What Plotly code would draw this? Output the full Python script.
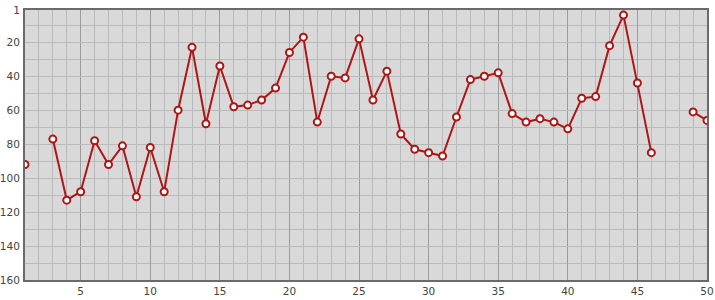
import plotly.graph_objects as go

x_vals = list(range(1, 51))
y_vals = [92, None, 77, 113, 108, 78, 92, 81, 111, 82,
          108, 60, 23, 68, 34, 58, 57, 54, 47, 26,
          17, 67, 40, 41, 18, 54, 37, 74, 83, 85,
          87, 64, 42, 40, 38, 62, 67, 65, 67, 71,
          53, 52, 22, 4, 44, 85, None, None, 61, 66]

y_ticks = [1, 20, 40, 60, 80, 100, 120, 140, 160]
x_ticks = [5, 10, 15, 20, 25, 30, 35, 40, 45, 50]

fig = go.Figure(go.Scatter(
    x=x_vals, y=y_vals, mode="lines+markers", connectgaps=False,
    line=dict(color="#b01515", width=2),
    marker=dict(size=7, color="white", line=dict(color="#b01515", width=2)),
    hoverinfo="x+y",
))

fig.update_layout(
    width=715, height=300,
    margin=dict(l=25, r=8, t=10, b=20),
    paper_bgcolor="white", plot_bgcolor="#d9d9d9",
    showlegend=False,
    font=dict(family="DejaVu Sans", size=10.5, color="#444444"),
)
fig.update_xaxes(
    range=[1, 50], tickmode="array", tickvals=x_ticks,
    showgrid=True, gridcolor="#9c9c9c", gridwidth=1,
    minor=dict(tickmode="linear", tick0=1, dtick=1, showgrid=True, gridcolor="#bababa", gridwidth=1),
    showline=True, linecolor="#6a6a6a", linewidth=2, mirror=True,
    ticks="", zeroline=False, automargin=False,
)
fig.update_yaxes(
    range=[160, 1], tickmode="array", tickvals=y_ticks,
    showgrid=True, gridcolor="#bababa", gridwidth=1,
    minor=dict(tickmode="array", tickvals=[10, 30, 50, 70, 90, 110, 130, 150], showgrid=True, gridcolor="#bababa", gridwidth=1),
    showline=True, linecolor="#6a6a6a", linewidth=2, mirror=True,
    ticks="", zeroline=False, ticklabelstandoff=1, automargin=False,
)

fig.write_html("out.html")
